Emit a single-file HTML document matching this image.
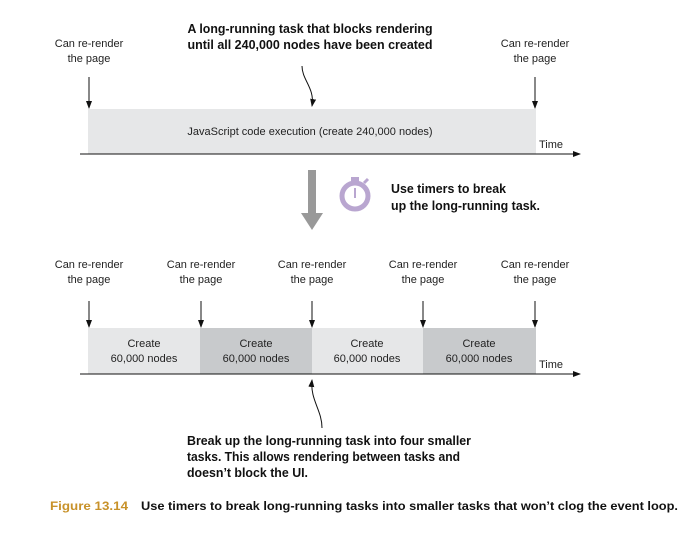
<!DOCTYPE html>
<html><head><style>
body{margin:0;background:#fff;}
svg text{font-family:"Liberation Sans",sans-serif;}
.l{font-size:11px;fill:#222;text-anchor:middle}
.b{font-family:"Liberation Sans",sans-serif;font-weight:bold;font-size:13px;fill:#111}
</style></head><body>
<svg width="680" height="528" viewBox="0 0 680 528" xmlns="http://www.w3.org/2000/svg">
<defs><marker id="a" markerWidth="8" markerHeight="8" refX="7" refY="4" orient="auto" markerUnits="userSpaceOnUse"><path d="M0,1 L8,4 L0,7 Z" fill="#111"/></marker></defs>
<text class="b" x="310" y="33" text-anchor="middle" textLength="245" lengthAdjust="spacingAndGlyphs">A long-running task that blocks rendering</text>
<text class="b" x="310" y="49" text-anchor="middle" textLength="245" lengthAdjust="spacingAndGlyphs">until all 240,000 nodes have been created</text>
<text class="l" x="89" y="47">Can re-render</text><text class="l" x="89" y="62">the page</text>
<text class="l" x="535" y="47">Can re-render</text><text class="l" x="535" y="62">the page</text>
<line x1="89" y1="77" x2="89" y2="108" stroke="#111" marker-end="url(#a)"/>
<line x1="535" y1="77" x2="535" y2="108" stroke="#111" marker-end="url(#a)"/>
<path d="M302,66 C302,80 315,88 312,106" fill="none" stroke="#111" marker-end="url(#a)"/>
<rect x="88" y="109" width="448" height="45" fill="#e6e7e8"/>
<text class="l" x="310" y="135">JavaScript code execution (create 240,000 nodes)</text>
<line x1="80" y1="154" x2="580" y2="154" stroke="#111" marker-end="url(#a)"/>
<text x="539" y="148" style="font-size:11px;fill:#222">Time</text>
<rect x="308" y="170" width="8" height="44" fill="#999"/>
<path d="M301,213 L323,213 L312,230 Z" fill="#999"/>
<circle cx="355" cy="196" r="13" fill="none" stroke="#b9a6d0" stroke-width="5"/>
<rect x="351" y="177" width="8" height="4" fill="#b9a6d0"/>
<line x1="364" y1="183" x2="368" y2="179" stroke="#b9a6d0" stroke-width="3"/>
<line x1="355" y1="188" x2="355" y2="198" stroke="#b9a6d0" stroke-width="2"/>
<text class="b" x="391" y="193" textLength="115" lengthAdjust="spacingAndGlyphs">Use timers to break</text>
<text class="b" x="391" y="210" textLength="149" lengthAdjust="spacingAndGlyphs">up the long-running task.</text>
<text class="l" x="89" y="268">Can re-render</text><text class="l" x="89" y="283">the page</text>
<text class="l" x="201" y="268">Can re-render</text><text class="l" x="201" y="283">the page</text>
<text class="l" x="312" y="268">Can re-render</text><text class="l" x="312" y="283">the page</text>
<text class="l" x="423" y="268">Can re-render</text><text class="l" x="423" y="283">the page</text>
<text class="l" x="535" y="268">Can re-render</text><text class="l" x="535" y="283">the page</text>
<g stroke="#111" marker-end="url(#a)">
<line x1="89" y1="301" x2="89" y2="327"/><line x1="201" y1="301" x2="201" y2="327"/>
<line x1="312" y1="301" x2="312" y2="327"/><line x1="423" y1="301" x2="423" y2="327"/>
<line x1="535" y1="301" x2="535" y2="327"/>
</g>
<rect x="88" y="328" width="112" height="46" fill="#e6e7e8"/>
<rect x="200" y="328" width="112" height="46" fill="#c8cacc"/>
<rect x="312" y="328" width="111" height="46" fill="#e6e7e8"/>
<rect x="423" y="328" width="113" height="46" fill="#c8cacc"/>
<text class="l" x="144" y="347">Create</text><text class="l" x="144" y="362">60,000 nodes</text>
<text class="l" x="256" y="347">Create</text><text class="l" x="256" y="362">60,000 nodes</text>
<text class="l" x="367" y="347">Create</text><text class="l" x="367" y="362">60,000 nodes</text>
<text class="l" x="479" y="347">Create</text><text class="l" x="479" y="362">60,000 nodes</text>
<line x1="80" y1="374" x2="580" y2="374" stroke="#111" marker-end="url(#a)"/>
<text x="539" y="368" style="font-size:11px;fill:#222">Time</text>
<path d="M322,428 C322,410 310,400 312,380" fill="none" stroke="#111" marker-end="url(#a)"/>
<text class="b" x="187" y="445" textLength="284" lengthAdjust="spacingAndGlyphs">Break up the long-running task into four smaller</text>
<text class="b" x="187" y="461" textLength="273" lengthAdjust="spacingAndGlyphs">tasks. This allows rendering between tasks and</text>
<text class="b" x="187" y="477" textLength="121" lengthAdjust="spacingAndGlyphs">doesn’t block the UI.</text>
<text x="50" y="510" textLength="78" lengthAdjust="spacingAndGlyphs" style="font-weight:bold;font-size:12px;fill:#c8922a">Figure 13.14</text>
<text x="141" y="510" style="font-weight:bold;font-size:12px;fill:#111" textLength="537" lengthAdjust="spacingAndGlyphs">Use timers to break long-running tasks into smaller tasks that won’t clog the event loop.</text>
</svg>
</body></html>
